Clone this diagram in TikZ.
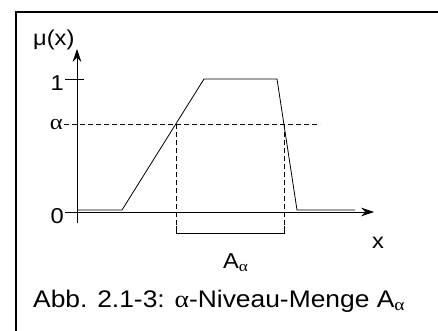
\documentclass[tikz,border=0pt]{standalone}
\usepackage{fontspec}
\setmainfont{Liberation Sans}[FakeStretch=1.1]
\newfontfamily\grk{Liberation Serif}[FakeStretch=1.15]
\usetikzlibrary{arrows.meta}
\tikzset{
    axis/.style={line width=0.7pt, -{Stealth[length=4.5mm, width=3mm]}},
    level/.style={line width=0.6pt, dash pattern=on 5pt off 3pt},
    curve/.style={line width=0.8pt},
    lbl/.style={font=\fontsize{21.5}{26}\selectfont, inner sep=1pt},
    caption/.style={font=\fontsize{24}{28}\selectfont, inner sep=0pt}
}

\begin{document}
\begin{tikzpicture}[x=1pt, y=-1pt]
\useasboundingbox (0,0) rectangle (438,331);
% frame
\draw[line width=1.1pt] (16,331) -- (16,12) -- (438,12);
% axes
\coordinate (ybot) at (77,223);
\coordinate (ytop) at (77,49);
\coordinate (xend) at (374,212);
\node[lbl, anchor=east] (zero) at (65,216) {0};
\node[lbl, anchor=east] (one) at (65,83) {1};
\node[lbl, anchor=east] (alpha) at (64,125) {\grk α};
\node[lbl, anchor=base west] (mu) at (32,46) {μ(x)};
\node[lbl] (xlab) at (378,243) {x};
\draw[axis] (ybot) -- (ytop);
\draw[axis] (zero.east |- xend) -- (xend);
\coordinate (t1) at (84,79);
\draw[line width=0.7pt] (one.east |- t1) -- (t1);
% membership function
\draw[curve] (78,210) -- (122,210) -- (204,79) -- (277,79) -- (297,210) -- (355,210);
% alpha level
\coordinate (aend) at (320,124);
\coordinate (pl) at (176,124);
\coordinate (pr) at (284,124);
\draw[level] (alpha.east |- aend) -- (aend);
\coordinate (bl) at (176,226);
\coordinate (br) at (284,226);
\draw[level] (pl) -- (bl);
\draw[level] (pr) -- (br);
% bracket
\draw[line width=0.7pt] (bl) -- ++(0,7) -| (br);
\node[lbl, anchor=base west] (aset) at (222,268) {A\textsubscript{\grk α}};
% caption
\node[caption, anchor=base west] (cap) at (33,307) {Abb. 2.1-3: {\grk α}-Niveau-Menge A\textsubscript{\grk α}};
\end{tikzpicture}
\end{document}
